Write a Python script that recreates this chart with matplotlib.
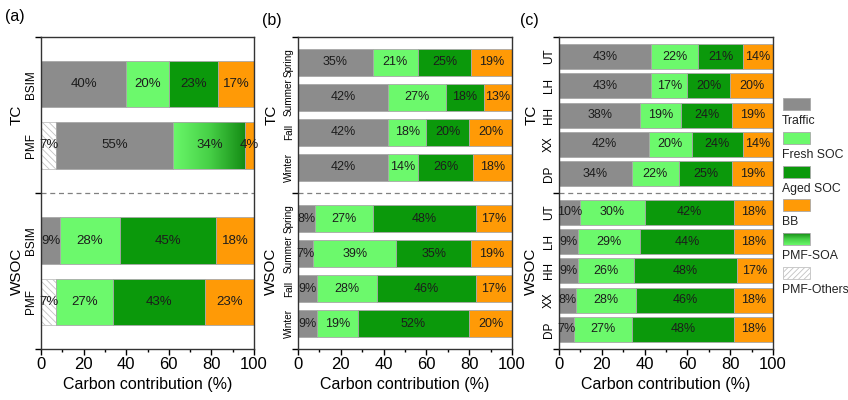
import matplotlib
matplotlib.use("Agg")
import matplotlib.pyplot as plt
import numpy as np
from matplotlib.colors import LinearSegmentedColormap
from matplotlib.patches import Rectangle

plt.rcParams["font.family"] = ["Liberation Sans", "DejaVu Sans"]
plt.rcParams["hatch.linewidth"] = 0.6

C_TRAFFIC = "#8c8c8c"
C_FRESH = "#6cf96c"
C_AGED = "#0b990b"
C_BB = "#ff9a06"
EDGE = "#a8a8a8"
soa_cmap = LinearSegmentedColormap.from_list("soa", ["#6af86a", "#47d047", "#138a13"])

# ---- panel (a): BSIM vs PMF ----
a_rows = ["BSIM", "PMF"]
a_tc_bsim = [40, 20, 23, 17]     # Traffic, Fresh SOC, Aged SOC, BB
a_tc_pmf = [7, 55, 34, 4]        # PMF-Others, Traffic, PMF-SOA, BB
a_wsoc_bsim = [9, 28, 45, 18]    # Traffic, Fresh SOC, Aged SOC, BB
a_wsoc_pmf = [7, 27, 43, 23]     # PMF-Others, Fresh SOC, Aged SOC, BB

# ---- panel (b): seasons ----
seasons = ["Spring", "Summer", "Fall", "Winter"]
b_tc_traffic = [35, 42, 42, 42]
b_tc_fresh = [21, 27, 18, 14]
b_tc_aged = [25, 18, 20, 26]
b_tc_bb = [19, 13, 20, 18]
b_wsoc_traffic = [8, 7, 9, 9]
b_wsoc_fresh = [27, 39, 28, 19]
b_wsoc_aged = [48, 35, 46, 52]
b_wsoc_bb = [17, 19, 17, 20]

# ---- panel (c): sites ----
sites = ["UT", "LH", "HH", "XX", "DP"]
c_tc_traffic = [43, 43, 38, 42, 34]
c_tc_fresh = [22, 17, 19, 20, 22]
c_tc_aged = [21, 20, 24, 24, 25]
c_tc_bb = [14, 20, 19, 14, 19]
c_wsoc_traffic = [10, 9, 9, 8, 7]
c_wsoc_fresh = [30, 29, 26, 28, 27]
c_wsoc_aged = [42, 44, 48, 46, 48]
c_wsoc_bb = [18, 18, 17, 18, 18]

legend_names = ["Traffic", "Fresh SOC", "Aged SOC", "BB", "PMF-SOA", "PMF-Others"]
BSIM_KINDS = ["traffic", "fresh", "aged", "bb"]


def segment(ax, y, left, v, kind, h):
    if kind == "soa":
        # gradient fill, light green -> dark green
        ax.imshow(np.linspace(0, 1, 256).reshape(1, -1), cmap=soa_cmap, aspect="auto",
                  extent=(left, left + v, y + h / 2, y - h / 2), zorder=2)
        ax.barh(y, v, left=left, height=h, fill=False, edgecolor=EDGE, lw=0.6, zorder=2.6)
    elif kind == "others":
        ax.barh(y, v, left=left, height=h, color="white", hatch="\\\\\\\\\\",
                edgecolor="#c2c2c2", lw=0.6, zorder=2)
    else:
        col = {"traffic": C_TRAFFIC, "fresh": C_FRESH, "aged": C_AGED, "bb": C_BB}[kind]
        ax.barh(y, v, left=left, height=h, color=col, edgecolor=EDGE, lw=0.6, zorder=2)


def stacked(ax, y, values, kinds, h, fs):
    left = 0
    for v, k in zip(values, kinds):
        segment(ax, y, left, v, k, h)
        ax.text(left + v / 2, y, f"{v}%", ha="center", va="center",
                fontsize=fs, color="#1c1c1c", zorder=3)
        left += v


def setup(ax, labels, n, gap, pad, fs_lab, fs_grp, grp_x):
    tc_pos = np.arange(n)
    ws_pos = np.arange(n) + n + gap
    mid = (n - 1 + n + gap) / 2
    lo, hi = -pad, ws_pos[-1] + pad
    ax.axhline(mid, color="#808080", lw=0.9, ls=(0, (4, 3)), zorder=1)
    ax.set_xlim(0, 100)
    ax.set_ylim(hi, lo)
    ax.set_yticks(np.concatenate([tc_pos, ws_pos]))
    ax.set_yticklabels(labels + labels, rotation=90, va="center", fontsize=fs_lab)
    ax.set_yticks([lo, mid, hi], minor=True)
    ax.tick_params(axis="y", which="major", length=0, pad=3)
    ax.tick_params(axis="y", which="minor", length=4, width=1, direction="out")
    ax.set_xticks(np.arange(0, 101, 20))
    ax.set_xticks(np.arange(10, 100, 20), minor=True)
    ax.tick_params(axis="x", which="major", length=4, width=1, labelsize=12, pad=2)
    ax.tick_params(axis="x", which="minor", length=2.5, width=1)
    ax.set_xlabel("Carbon contribution (%)", fontsize=11.5, labelpad=3)
    for s in ax.spines.values():
        s.set_color("#333333")
        s.set_linewidth(1.0)
    tr = ax.get_yaxis_transform()
    ax.text(grp_x, tc_pos.mean(), "TC", rotation=90, ha="center", va="center",
            fontsize=fs_grp, transform=tr)
    ax.text(grp_x, ws_pos.mean(), "WSOC", rotation=90, ha="center", va="center",
            fontsize=fs_grp, transform=tr)
    return tc_pos, ws_pos


fig = plt.figure(figsize=(8.48, 4.0), dpi=100)
axa = fig.add_axes([41 / 848, 0.1275, 213 / 848, 0.78])
axb = fig.add_axes([298 / 848, 0.1275, 214 / 848, 0.78])
axc = fig.add_axes([559 / 848, 0.1275, 214 / 848, 0.78])

# (a)
h = 0.76
tc, ws = setup(axa, a_rows, 2, 0.55, 0.77, 8.5, 11, -0.115)
stacked(axa, tc[0], a_tc_bsim, BSIM_KINDS, h, 9.5)
stacked(axa, tc[1], a_tc_pmf, ["others", "traffic", "soa", "bb"], h, 9.5)
stacked(axa, ws[0], a_wsoc_bsim, BSIM_KINDS, h, 9.5)
stacked(axa, ws[1], a_wsoc_pmf, ["others", "fresh", "aged", "bb"], h, 9.5)
axa.set_xlim(0, 100)
axa.set_ylim(ws[-1] + 0.77, -0.77)

# (b)
h = 0.78
tc, ws = setup(axb, seasons, 4, 0.47, 0.72, 7.2, 11, -0.125)
for i in range(4):
    stacked(axb, tc[i], [b_tc_traffic[i], b_tc_fresh[i], b_tc_aged[i], b_tc_bb[i]], BSIM_KINDS, h, 9)
    stacked(axb, ws[i], [b_wsoc_traffic[i], b_wsoc_fresh[i], b_wsoc_aged[i], b_wsoc_bb[i]], BSIM_KINDS, h, 9)

# (c)
h = 0.85
tc, ws = setup(axc, sites, 5, 0.32, 0.67, 8.5, 11, -0.13)
for i in range(5):
    stacked(axc, tc[i], [c_tc_traffic[i], c_tc_fresh[i], c_tc_aged[i], c_tc_bb[i]], BSIM_KINDS, h, 9)
    stacked(axc, ws[i], [c_wsoc_traffic[i], c_wsoc_fresh[i], c_wsoc_aged[i], c_wsoc_bb[i]], BSIM_KINDS, h, 9)

fig.text(5 / 848, 1 - 17 / 400, "(a)", fontsize=11.5, va="center")
fig.text(262 / 848, 1 - 20 / 400, "(b)", fontsize=11.5, va="center")
fig.text(520 / 848, 1 - 20 / 400, "(c)", fontsize=11.5, va="center")

# legend: swatch with the label underneath
lg = fig.add_axes([0, 0, 1, 1], facecolor="none")
lg.set_xlim(0, 848)
lg.set_ylim(400, 0)
lg.axis("off")
swatch_kinds = ["traffic", "fresh", "aged", "bb", "soa", "others"]
for i, (name, kind) in enumerate(zip(legend_names, swatch_kinds)):
    top = 98 + 33.8 * i
    if kind == "soa":
        lg.imshow(np.linspace(0, 1, 256).reshape(-1, 1)[::-1], cmap=soa_cmap, aspect="auto",
                  extent=(783, 810, top + 12, top), zorder=2)
        lg.add_patch(Rectangle((783, top), 27, 12, fill=False, edgecolor=EDGE, lw=0.6, zorder=3))
    elif kind == "others":
        lg.add_patch(Rectangle((783, top), 27, 12, facecolor="white", hatch="//////",
                               edgecolor="#c2c2c2", lw=0.6))
    else:
        col = {"traffic": C_TRAFFIC, "fresh": C_FRESH, "aged": C_AGED, "bb": C_BB}[kind]
        lg.add_patch(Rectangle((783, top), 27, 12, facecolor=col, edgecolor=EDGE, lw=0.6))
    lg.text(782, top + 23, name, fontsize=8.8, va="center", ha="left", color="#222222")
lg.set_xlim(0, 848)
lg.set_ylim(400, 0)

fig.savefig("out.png", dpi=100)
print("saved out.png")
